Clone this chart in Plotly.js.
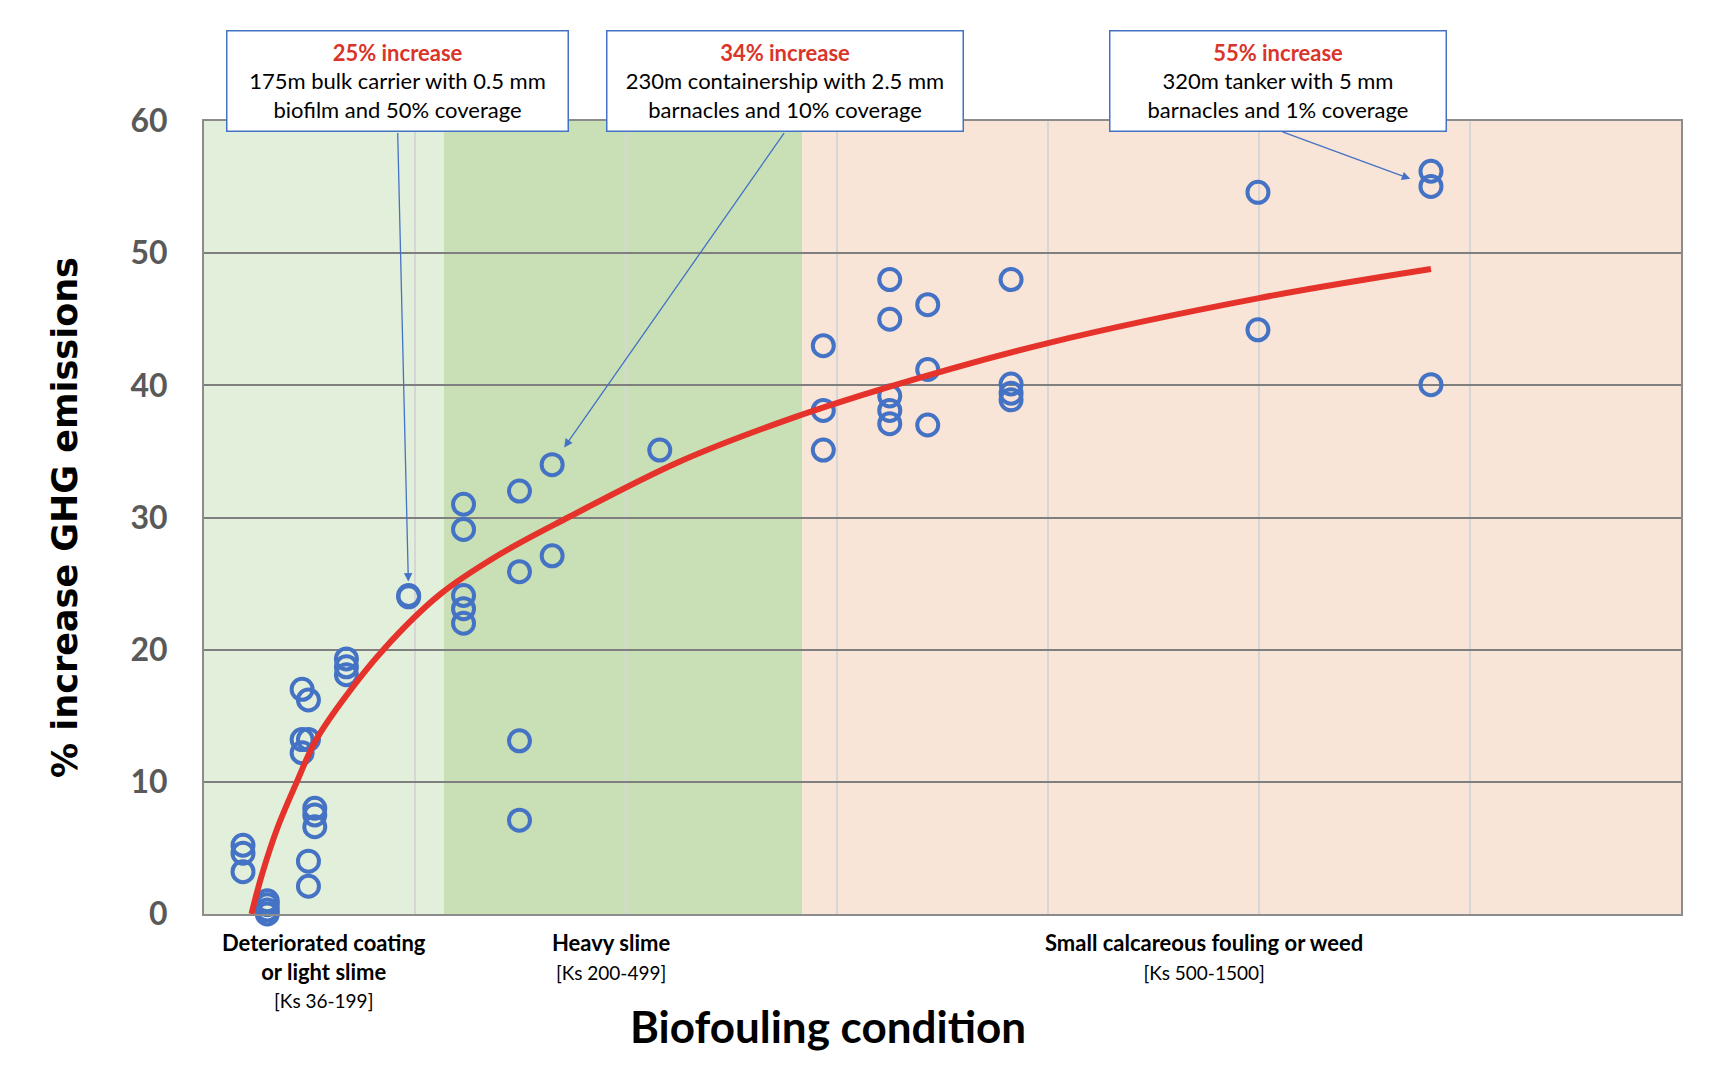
<!DOCTYPE html>
<html>
<head>
<meta charset="utf-8">
<script src="https://cdn.plot.ly/plotly-3.0.1.min.js"></script>
<style>
  html, body { margin: 0; padding: 0; background: #ffffff; }
  #chart { width: 1733px; height: 1080px; }
</style>
</head>
<body>
<div id="chart"></div>
<script>
// ---- Data ----
// Roughness Ks (x) and % increase in GHG emissions (y) for each ship case
const ksValues = [
  37, 37, 37,
  60, 60, 60, 60,
  93, 93, 93,
  99, 99, 99, 99,
  105, 105, 105,
  135, 135, 135,
  194, 194,
  246, 246, 246, 246, 246,
  299, 299, 299, 299,
  330, 330,
  432,
  587, 587, 587,
  650, 650, 650, 650, 650,
  686, 686, 686,
  765, 765, 765, 765,
  999, 999,
  1163, 1163, 1163
];
const ghgIncrease = [
  5.2, 4.6, 3.2,
  1.0, 0.7, 0.3, 0.0,
  17.0, 13.2, 12.2,
  16.2, 13.2, 4.0, 2.1,
  8.0, 7.5, 6.6,
  19.3, 18.7, 18.1,
  24.1, 24.0,
  31.0, 29.1, 24.1, 23.1, 22.0,
  32.0, 25.9, 13.1, 7.1,
  34.0, 27.1,
  35.1,
  43.0, 38.1, 35.1,
  48.0, 45.0, 39.2, 38.1, 37.1,
  46.1, 41.2, 37.0,
  48.0, 40.1, 39.4, 38.9,
  54.6, 44.2,
  56.2, 55.05, 40.05
];

// Trend line
const trendKs  = [45, 55, 70, 88, 105, 130, 170, 224, 280, 345, 450, 546, 650, 800, 1000, 1163];
const trendGhg = [0, 3.0, 6.6, 10.0, 13.0, 16.0, 20.0, 24.2, 27.2, 30.0, 34.2, 37.2, 39.9, 43.2, 46.6, 48.8];

// Biofouling condition zones (Ks edges of the shaded bands)
const zoneEdgesKs = [0, 227.5, 567, 1400];
const zoneNames = ['Deteriorated coating<br>or light slime', 'Heavy slime', 'Small calcareous fouling or weed'];
const zoneRanges = ['[Ks 36-199]', '[Ks 200-499]', '[Ks 500-1500]'];
const zoneLabelKs = [114, 386, 948];

// Y ticks
const yTickValues = [0, 10, 20, 30, 40, 50, 60];
const yTickLabels = ['0', '10', '20', '30', '40', '50', '60'];

// Callouts
const calloutTitles = ['25% increase', '34% increase', '55% increase'];
const calloutTexts = [
  '175m bulk carrier with 0.5 mm<br>biofilm and 50% coverage',
  '230m containership with 2.5 mm<br>barnacles and 10% coverage',
  '320m tanker with 5 mm<br>barnacles and 1% coverage'
];
const calloutPointIndex = [20, 31, 52];

// ---- Styling / layout ----
const BLUE = '#4472C4';
const RED = '#E5322A';
const FONT = 'Lato, "Open Sans", sans-serif';
const zoneColors = ['#E2EFDA', '#C9E0B6', '#F8E5D7'];

const traces = [
  {
    type: 'scatter',
    mode: 'markers',
    x: ksValues,
    y: ghgIncrease,
    marker: { symbol: 'circle-open', size: 21, color: BLUE, line: { width: 4, color: BLUE } },
    hoverinfo: 'x+y',
    cliponaxis: false
  },
  {
    type: 'scatter',
    mode: 'lines',
    x: trendKs,
    y: trendGhg,
    line: { color: RED, width: 6, shape: 'spline', smoothing: 1 },
    hoverinfo: 'skip'
  }
];

const shapes = zoneColors.map((c, i) => ({
  type: 'rect', xref: 'x', yref: 'y',
  x0: zoneEdgesKs[i], x1: zoneEdgesKs[i + 1], y0: 0, y1: 60,
  fillcolor: c, line: { width: 0 }, layer: 'below'
}));

const annotations = [];

// Zone labels under the axis
zoneNames.forEach((name, i) => {
  const bold = name.split('<br>').map(s => '<b>' + s + '</b>').join('<br>');
  annotations.push({
    xref: 'x', yref: 'paper', x: zoneLabelKs[i], y: -0.016,
    xanchor: 'center', yanchor: 'top', showarrow: false, align: 'center',
    text: '<span style="font-size:22px">' + bold + '</span><br><span style="font-size:19px">' + zoneRanges[i] + '</span>',
    font: { family: FONT, size: 22, color: '#000000' }
  });
});

// X axis title
annotations.push({
  xref: 'paper', yref: 'paper', x: 0.4225, y: -0.141,
  xanchor: 'center', yanchor: 'middle', showarrow: false,
  text: '<b>Biofouling condition</b>',
  font: { family: FONT, size: 44, color: '#000000' }
});

// Callout boxes
const boxCentersX = [0.131, 0.3934, 0.7271];
const boxWidths = [338, 353, 333];
calloutTitles.forEach((t, i) => {
  annotations.push({
    xref: 'paper', yref: 'paper', x: boxCentersX[i], y: 1.0504,
    xanchor: 'center', yanchor: 'middle', showarrow: false, align: 'center',
    width: boxWidths[i], height: 97,
    bgcolor: '#ffffff', bordercolor: BLUE, borderwidth: 1.5, borderpad: 1,
    text: '<b><span style="color:#D9352B">' + t + '</span></b><br>' + calloutTexts[i],
    font: { family: FONT, size: 22, color: '#000000' }
  });
});

// Callout arrows (tails at the box bottoms, heads at the data points)
const arrowTails = [[-11, -464], [233, -333], [-150, -55]];
const arrowStandoff = [14, 21, 22];
calloutPointIndex.forEach((idx, i) => {
  annotations.push({
    xref: 'x', yref: 'y', x: ksValues[idx], y: ghgIncrease[idx],
    axref: 'pixel', ayref: 'pixel', ax: arrowTails[i][0], ay: arrowTails[i][1],
    text: '', showarrow: true, arrowhead: 2, arrowsize: 1.3, arrowwidth: 1.3,
    arrowcolor: BLUE, standoff: arrowStandoff[i]
  });
});

const layout = {
  width: 1733,
  height: 1080,
  margin: { l: 204, r: 52, t: 121, b: 166, pad: 0 },
  paper_bgcolor: '#ffffff',
  plot_bgcolor: '#ffffff',
  showlegend: false,
  xaxis: {
    range: [0, 1400],
    dtick: 200,
    tick0: 0,
    showticklabels: false,
    ticks: '',
    showgrid: true,
    gridcolor: '#D6D6D6',
    gridwidth: 1.5,
    zeroline: false,
    showline: true,
    mirror: true,
    linecolor: '#8C8C8C',
    linewidth: 2,
    fixedrange: true
  },
  yaxis: {
    range: [0, 60],
    tickvals: yTickValues,
    ticktext: yTickLabels,
    ticks: '',
    ticklabelstandoff: 28,
    tickfont: { family: FONT, size: 32, color: '#595959', weight: 'bold' },
    showgrid: true,
    gridcolor: '#7F7F7F',
    gridwidth: 2,
    zeroline: false,
    showline: true,
    mirror: true,
    linecolor: '#8C8C8C',
    linewidth: 2,
    fixedrange: true,
    title: {
      text: '% increase GHG emissions',
      font: { family: '"DejaVu Sans", Verdana, sans-serif', size: 35, color: '#000000', weight: 'bold' },
      standoff: 42
    }
  },
  shapes: shapes,
  annotations: annotations
};

Plotly.newPlot('chart', traces, layout, { displayModeBar: false, staticPlot: true });
</script>
</body>
</html>
